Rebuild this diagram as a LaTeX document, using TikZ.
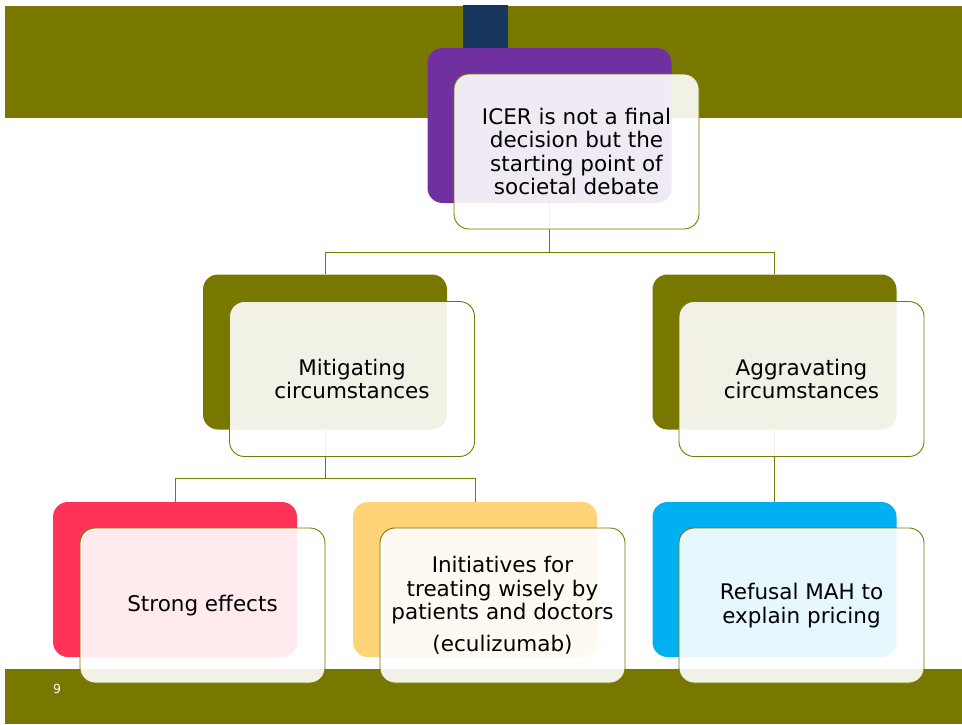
\documentclass[tikz,border=0pt]{standalone}
\usepackage{fontspec}
\setmainfont{DejaVu Sans}
\definecolor{olive}{HTML}{787800}
\definecolor{navy}{HTML}{17375E}
\definecolor{purp}{HTML}{7030A0}
\definecolor{redc}{HTML}{FF3357}
\definecolor{yelc}{HTML}{FFD478}
\definecolor{bluc}{HTML}{00B0F0}
\definecolor{linec}{HTML}{7A7A00}
\begin{document}
\begin{tikzpicture}[x=1pt,y=-1pt,
  backbox/.style={rounded corners=15pt, minimum width=244pt, minimum height=155pt, inner sep=0pt},
  frontbox/.style={draw=olive, line width=0.9pt, fill=white, fill opacity=0.9, text opacity=1,
    rounded corners=15pt, minimum width=245pt, minimum height=155pt, inner sep=0pt,
    align=center, font=\fontsize{21.5}{23.5}\selectfont},
  conn/.style={draw=linec, line width=1pt}]
\useasboundingbox (0,0) rectangle (962,724);
\fill[white] (0,0) rectangle (962,724);
% bands
\fill[olive] (5,6) rectangle (962,118);
\fill[olive] (5,669) rectangle (962,724);
\fill[navy] (463,5) rectangle (508,70);
\node[text=white, font=\fontsize{12.5}{14}\selectfont, inner sep=0pt] (pagenum) at (57,689) {9};
% back boxes
\node[backbox, fill=purp] (topB) at (549.5,125.5) {};
\node[backbox, fill=olive] (mitB) at (325,352) {};
\node[backbox, fill=olive] (aggB) at (774.5,352) {};
\node[backbox, fill=redc] (strB) at (175,579.5) {};
\node[backbox, fill=yelc] (iniB) at (475,579.5) {};
\node[backbox, fill=bluc] (refB) at (774.5,579.5) {};
% connectors
\draw[conn] (topB.south) -- ++(0,49) coordinate (j1);
\draw[conn] (mitB.north) |- (j1) -| (aggB.north);
\draw[conn] (mitB.south) -- ++(0,49) coordinate (j2);
\draw[conn] (strB.north) |- (j2) -| (iniB.north);
\draw[conn] (aggB.south) -- (refB.north);
% front boxes
\node[frontbox] (topF) at (576.5,151.5) {ICER is not a final\\decision but the\\starting point of\\societal debate};
\node[frontbox] (mitF) at (352,379) {Mitigating\\circumstances};
\node[frontbox] (aggF) at (801.5,379) {Aggravating\\circumstances};
\node[frontbox] (strF) at (202.5,605.5) {Strong effects};
\node[frontbox] (iniF) at (502.5,605.5) {Initiatives for\\treating wisely by\\patients and doctors\\[8.5pt](eculizumab)};
\node[frontbox] (refF) at (801.5,605.5) {Refusal MAH to\\explain pricing};
\end{tikzpicture}
\end{document}
